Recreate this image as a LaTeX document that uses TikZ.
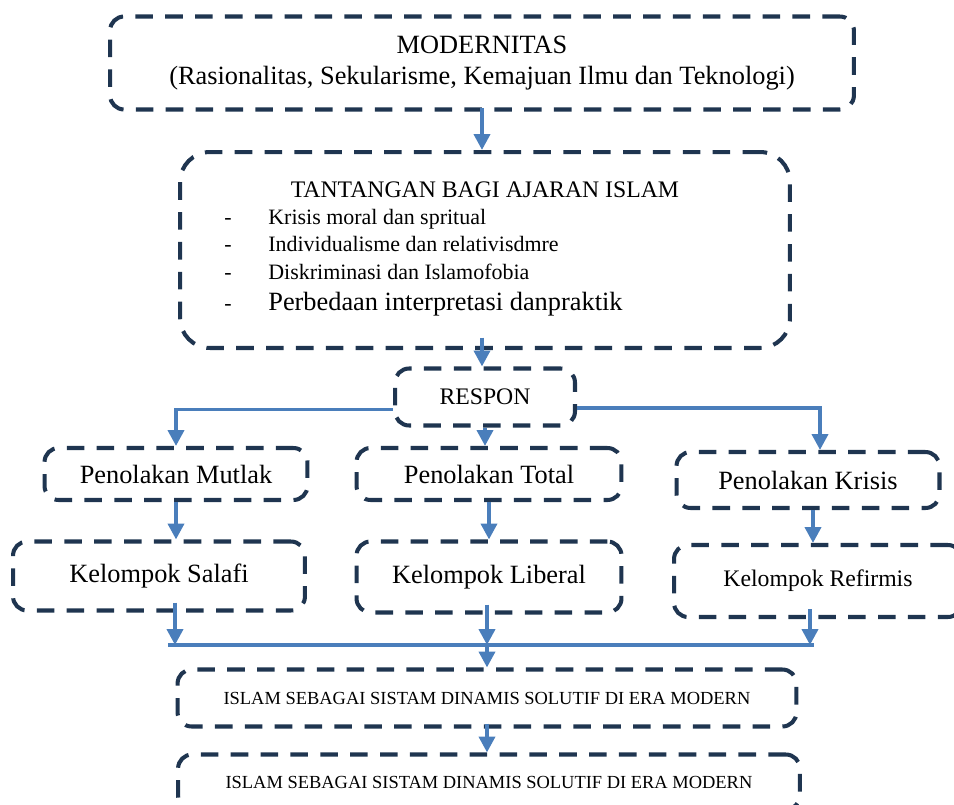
\documentclass[tikz,border=0pt]{standalone}
\usepackage{fontspec}
\setmainfont{Liberation Serif}
\usepackage{tikz}
\usetikzlibrary{arrows.meta,positioning,calc}

\definecolor{navy}{HTML}{1F3550}
\definecolor{arrblue}{HTML}{4A7EBB}

\begin{document}
\begin{tikzpicture}[x=0.02cm, y=-0.02cm,
    box/.style={draw=navy, line width=2.3pt, dash pattern=on 10pt off 7pt,
                rounded corners=8pt, align=center, inner sep=0pt},
    arr/.style={draw=arrblue, line width=2.2pt, -{Triangle[length=9pt,width=9pt]}},
    link/.style={draw=arrblue, line width=2.2pt},
    big/.style={font=\fontsize{15}{18}\selectfont},
    mid/.style={font=\fontsize{13.5}{16}\selectfont},
    small/.style={font=\fontsize{10.5}{13}\selectfont}]

    \useasboundingbox (0,0) rectangle (954,805);

    % Boxes
    \node[box, big, minimum width=14.88cm, minimum height=1.86cm] (mod) at (482,63)
        {MODERNITAS\\(Rasionalitas, Sekularisme, Kemajuan Ilmu dan Teknologi)};
    \node[box, rounded corners=17pt, minimum width=12.2cm, minimum height=3.92cm] (tan) at (485,250) {};
    \node[box, mid, minimum width=3.6cm, minimum height=1.14cm] (respon) at (485,397) {RESPON};

    \node[box, big, minimum width=5.26cm, minimum height=1.04cm] (mutlak) at (176,474) {Penolakan Mutlak};
    \node[box, big, minimum width=5.3cm, minimum height=1.04cm] (total) at (489,474) {Penolakan Total};
    \node[box, big, minimum width=5.26cm, minimum height=1.12cm] (krisis) at (808,480) {Penolakan Krisis};

    \node[box, big, minimum width=5.84cm, minimum height=1.38cm] (salafi) at (159,576) {Kelompok Salafi};
    \node[box, big, minimum width=5.3cm, minimum height=1.42cm] (liberal) at (489,577) {Kelompok Liberal};
    \node[box, mid, minimum width=5.76cm, minimum height=1.44cm] (refirmis) at (818,581) {Kelompok Refirmis};

    \node[box, small, minimum width=12.38cm, minimum height=1.14cm] (islam1) at (487,698)
        {ISLAM SEBAGAI SISTAM DINAMIS SOLUTIF DI ERA MODERN};
    \node[box, small, minimum width=12.44cm, minimum height=1.1cm] (islam2) at (489,782)
        {ISLAM SEBAGAI SISTAM DINAMIS SOLUTIF DI ERA MODERN};

    % Challenges
    \node[mid] (tantitle) at (485,190) {TANTANGAN BAGI AJARAN ISLAM};
    \foreach \y/\txt [count=\i] in {224/Krisis moral dan spritual,
                                    251/Individualisme dan relativisdmre,
                                    279/Diskriminasi dan Islamofobia} {
        \node[font=\fontsize{12.5}{15}\selectfont, anchor=base, inner sep=0pt] (dash\i) at (228,\y) {-};
        \node[font=\fontsize{12.5}{15}\selectfont, anchor=base west, inner sep=0pt] (item\i) at (268,\y) {\txt};
    }
    \node[font=\fontsize{12.5}{15}\selectfont, anchor=base, inner sep=0pt] (dash4) at (228,310) {-};
    \node[font=\fontsize{15}{18}\selectfont, anchor=base west, inner sep=0pt] (item4) at (268,310)
        {Perbedaan interpretasi danpraktik};

    % Arrows
    \coordinate (barL) at (175,645);
    \coordinate (barM) at (487,645);
    \coordinate (barR) at (810,645);

    \draw[arr] ([yshift=2pt]mod.south) -- (mod.south |- tan.north);
    \draw[arr] ([yshift=7pt]tan.south -| mod.south) -- (mod.south |- respon.north);
    \draw[arr] ([yshift=-0.25cm]respon.west) -| (mutlak.north);
    \draw[arr] (respon.south) -- (respon.south |- total.north);
    \draw[arr] ([yshift=-0.22cm]respon.east) -| ([xshift=0.24cm]krisis.north);

    \draw[arr] (mutlak.south) -- (mutlak.south |- salafi.north);
    \draw[arr] (total.south) -- (total.south |- liberal.north);
    \draw[arr] ([xshift=0.1cm]krisis.south) -- ([xshift=0.1cm]krisis.south |- refirmis.north);

    \draw[arr] ([yshift=0.2cm]salafi.south -| barL) -- (barL);
    \draw[arr] ([yshift=0.2cm]liberal.south -| barM) -- (barM);
    \draw[arr] ([yshift=0.2cm]refirmis.south -| barR) -- (barR);
    \draw[link] ([xshift=-4pt]barL) -- ([xshift=2pt]barR);

    \draw[arr] (barM) -- (islam1.north -| barM);
    \draw[arr] ([yshift=0.1cm]islam1.south -| barM) -- (islam2.north -| barM);
\end{tikzpicture}
\end{document}
